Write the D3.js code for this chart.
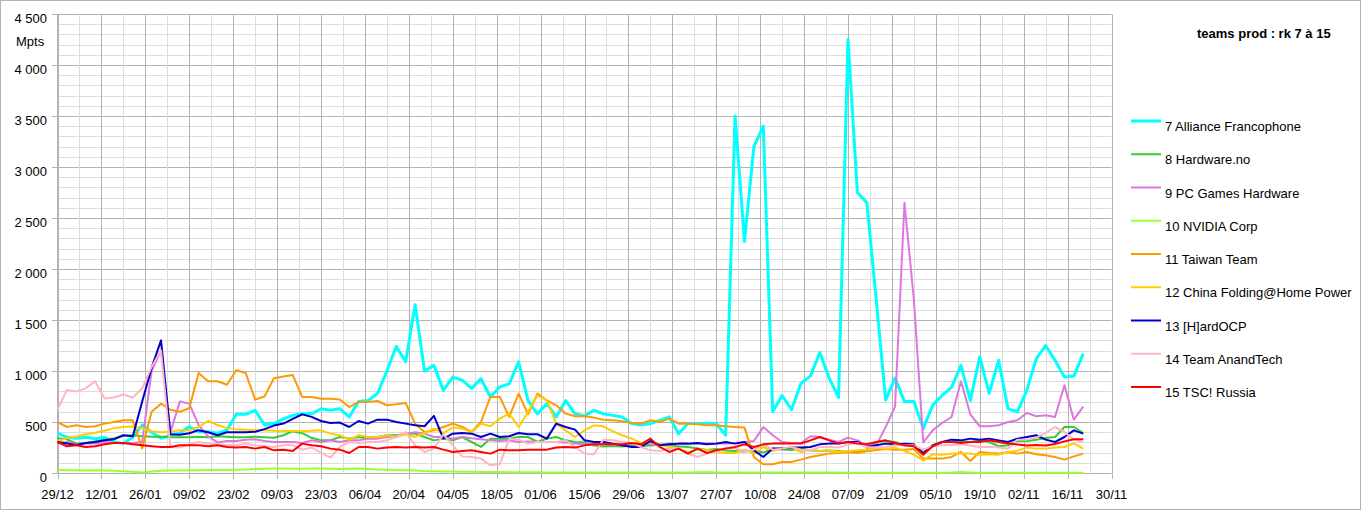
<!DOCTYPE html>
<html>
<head>
<meta charset="utf-8">
<script src="https://cdn.jsdelivr.net/npm/d3@7"></script>
<style>
  body { margin: 0; background: #fff; }
  text { font-family: "Liberation Sans", Arial, sans-serif; }
</style>
</head>
<body>
<div id="chart"></div>
<script>
// daily production (Mpts), one sample every 3 days from 29/12
var startDate = new Date(2008, 11, 29);
var stepDays = 3;

var xTickLabels = ["29/12", "12/01", "26/01", "09/02", "23/02", "09/03", "23/03", "06/04", "20/04",
  "04/05", "18/05", "01/06", "15/06", "29/06", "13/07", "27/07", "10/08", "24/08", "07/09",
  "21/09", "05/10", "19/10", "02/11", "16/11", "30/11"];
var yTicks = [0, 500, 1000, 1500, 2000, 2500, 3000, 3500, 4000, 4500];

var teamNames = ["7 Alliance Francophone", "8 Hardware.no", "9 PC Games Hardware", "10 NVIDIA Corp",
  "11 Taiwan Team", "12 China Folding@Home Power", "13 [H]ardOCP", "14 Team AnandTech", "15 TSC! Russia"];

var allianceFr = [390, 350, 340, 350, 335, 350, 305, 290, 350, 470, 400, 340, 370, 390, 455, 405, 405, 390, 420, 575, 575, 615, 470, 485, 530, 565, 580, 580,
  630, 615, 630, 550, 700, 710, 780, 1000, 1240, 1090, 1650, 1000, 1055, 810, 940, 910, 830, 925, 745, 845, 875, 1090, 710, 580, 680, 550, 710, 580,
  560, 615, 580, 565, 550, 485, 470, 485, 515, 550, 385, 485, 485, 485, 485, 370, 3500, 2270, 3200, 3400, 600, 760, 620, 880, 950, 1180, 930, 740,
  4250, 2750, 2650, 1700, 715, 930, 700, 700, 435, 665, 760, 840, 1055, 710, 1140, 780, 1105, 630, 600, 810, 1120, 1250, 1105, 940, 950, 1170];
var hardwareNo = [340, 330, 290, 295, 310, 325, 340, 365, 370, 360, 355, 355, 350, 350, 350, 355, 350, 360, 355, 350, 350, 355, 350, 345, 370, 410, 390, 345,
  320, 320, 353, 337, 353, 337, 353, 370, 370, 386, 386, 353, 320, 337, 320, 353, 304, 255, 337, 337, 337, 353, 353, 304, 337, 353, 320, 304,
  300, 270, 260, 265, 260, 270, 265, 270, 280, 275, 260, 255, 240, 225, 235, 220, 215, 210, 220, 200, 240, 230, 225, 240, 220, 215, 220, 215,
  206, 206, 230, 304, 314, 304, 271, 271, 206, 271, 304, 304, 314, 304, 320, 304, 262, 271, 314, 314, 327, 343, 353, 451, 451, 392];
var pcgh = [288, 304, 281, 288, 288, 304, 294, 294, 294, 304, 1000, 1200, 400, 700, 680, 470, 360, 300, 314, 314, 327, 330, 314, 304, 304, 304, 294, 320,
  304, 320, 304, 320, 320, 337, 337, 353, 360, 386, 400, 386, 353, 353, 337, 353, 340, 330, 320, 314, 320, 304, 310, 304, 304, 304, 300, 290,
  281, 281, 284, 275, 271, 288, 288, 281, 271, 288, 281, 281, 288, 288, 288, 288, 294, 304, 314, 451, 370, 304, 294, 294, 360, 353, 327, 304,
  347, 320, 271, 271, 450, 650, 2650, 1700, 300, 418, 490, 549, 900, 575, 458, 458, 468, 500, 517, 589, 556, 566, 549, 860, 523, 650];
var nvidia = [30, 28, 28, 25, 28, 25, 22, 18, 12, 5, 15, 22, 25, 25, 28, 28, 30, 30, 30, 32, 35, 38, 42, 45, 45, 42, 42, 45,
  45, 42, 40, 42, 45, 40, 35, 32, 30, 28, 25, 20, 18, 15, 14, 12, 12, 10, 10, 9, 8, 8, 7, 7, 6, 6, 6, 6,
  6, 6, 5, 5, 5, 5, 5, 5, 5, 5, 5, 5, 8, 10, 6, 5, 5, 5, 5, 5, 4, 4, 4, 4, 4, 4, 4, 4,
  3, 3, 3, 3, 3, 3, 3, 3, 3, 3, 3, 5, 10, 5, 3, 3, 3, 3, 3, 3, 3, 3, 3, 3, 3, 3];
var taiwan = [500, 451, 468, 451, 458, 484, 500, 517, 517, 240, 600, 680, 620, 600, 635, 980, 900, 900, 865, 1007, 980, 720, 750, 930, 945, 960, 746, 746,
  729, 729, 720, 647, 697, 697, 706, 664, 674, 687, 484, 402, 418, 451, 484, 451, 402, 500, 746, 746, 550, 778, 576, 778, 713, 664, 582, 556,
  556, 543, 523, 517, 507, 490, 484, 517, 500, 533, 484, 484, 477, 468, 468, 458, 451, 445, 157, 85, 85, 108, 108, 131, 157, 173, 190, 196,
  206, 196, 213, 226, 235, 229, 229, 235, 141, 141, 141, 157, 206, 118, 206, 196, 190, 203, 190, 206, 183, 173, 157, 131, 163, 190];
var china = [310, 340, 355, 380, 395, 415, 440, 450, 455, 440, 410, 400, 405, 420, 420, 450, 510, 470, 440, 430, 425, 420, 420, 415, 410, 415, 410, 415,
  418, 386, 370, 327, 370, 353, 353, 370, 353, 380, 353, 392, 435, 392, 445, 435, 402, 484, 458, 533, 582, 451, 598, 762, 713, 484, 418, 353,
  418, 468, 458, 409, 370, 337, 294, 304, 281, 255, 239, 206, 229, 229, 206, 196, 196, 229, 190, 255, 216, 239, 249, 206, 229, 216, 222, 206,
  216, 222, 229, 249, 235, 249, 216, 180, 124, 183, 180, 190, 190, 190, 180, 183, 180, 206, 219, 249, 239, 239, 249, 255, 290, 240];
var hardOcp = [305, 290, 275, 295, 305, 320, 330, 370, 360, 700, 1030, 1300, 380, 375, 390, 420, 400, 370, 400, 400, 400, 405, 430, 465, 485, 530, 575, 550,
  510, 490, 494, 451, 510, 484, 523, 523, 500, 484, 468, 458, 560, 337, 386, 392, 386, 353, 386, 353, 360, 392, 380, 380, 337, 484, 451, 425,
  320, 304, 304, 288, 271, 255, 255, 314, 271, 281, 288, 288, 294, 281, 288, 304, 288, 304, 222, 157, 239, 239, 249, 249, 255, 281, 288, 288,
  304, 304, 255, 271, 288, 281, 288, 281, 190, 271, 304, 327, 320, 337, 327, 337, 320, 304, 337, 353, 370, 327, 304, 353, 418, 386];
var anandTech = [620, 815, 800, 830, 900, 730, 740, 770, 740, 830, 1040, 1200, 255, 249, 281, 304, 288, 281, 271, 271, 288, 271, 262, 255, 271, 271, 229, 249,
  200, 150, 255, 304, 294, 304, 304, 320, 353, 402, 271, 206, 239, 380, 271, 163, 157, 141, 75, 85, 337, 327, 288, 304, 304, 304, 320, 255,
  190, 183, 327, 320, 304, 294, 255, 222, 216, 239, 239, 190, 157, 190, 206, 249, 239, 216, 229, 281, 229, 239, 255, 229, 222, 255, 255, 249,
  281, 294, 255, 249, 255, 271, 271, 271, 229, 262, 271, 271, 281, 268, 255, 255, 249, 239, 327, 327, 347, 392, 451, 402, 327, 304];
var tscRussia = [304, 262, 271, 255, 262, 281, 294, 294, 281, 271, 262, 255, 255, 271, 271, 271, 262, 271, 255, 249, 255, 239, 255, 222, 229, 216, 288, 271,
  262, 239, 229, 196, 255, 255, 239, 249, 255, 249, 255, 249, 255, 229, 206, 216, 222, 206, 190, 229, 222, 222, 229, 229, 229, 249, 255, 249,
  271, 281, 281, 281, 281, 294, 281, 337, 255, 206, 239, 190, 239, 196, 222, 239, 255, 281, 255, 281, 288, 288, 288, 288, 320, 353, 320, 288,
  304, 288, 281, 304, 320, 294, 271, 262, 180, 262, 304, 304, 294, 304, 304, 320, 304, 290, 280, 270, 275, 270, 285, 310, 330, 330];

var teamColors = ["#00ffff", "#33cc33", "#dd77dd", "#99ff33", "#ff9900", "#ffcc00", "#0000cc", "#ffb6c1", "#ff0000"];
var teamValues = [allianceFr, hardwareNo, pcgh, nvidia, taiwan, china, hardOcp, anandTech, tscRussia];

var W = 1361, H = 510;
var endDate = d3.timeDay.offset(startDate, 336);
var dates = d3.range(allianceFr.length).map(function(i) { return d3.timeDay.offset(startDate, i * stepDays); });

var x = d3.scaleTime().domain([startDate, endDate]).range([57.5, 1111.5]);
var y = d3.scaleLinear().domain([0, 4500]).range([473, 14]);
var fmt = d3.formatLocale({decimal: ",", thousands: " ", grouping: [3], currency: ["", ""]}).format(",");

var svg = d3.select("#chart").append("svg")
  .attr("width", W)
  .attr("height", H);

svg.append("rect")
  .attr("x", 0.5).attr("y", 0.5)
  .attr("width", W - 1).attr("height", H - 1)
  .attr("fill", "#fff")
  .attr("stroke", "#b3b3b3");

function px(v) { return Math.round(v) + 0.5; }

// grid: minor every 100 Mpts / 7 days, major every 500 / 14 days
var grid = svg.append("g");
grid.selectAll(".hminor").data(d3.range(0, 4501, 100)).enter().append("line")
  .attr("x1", 57.5).attr("x2", 1111.5)
  .attr("y1", function(d) { return px(y(d)); }).attr("y2", function(d) { return px(y(d)); })
  .attr("stroke", function(d) { return d % 500 ? "#dddddd" : "#b3b3b3"; });
grid.selectAll(".vminor").data(d3.range(0, 337, 7)).enter().append("line")
  .attr("x1", function(d) { return px(x(d3.timeDay.offset(startDate, d))); })
  .attr("x2", function(d) { return px(x(d3.timeDay.offset(startDate, d))); })
  .attr("y1", px(y(4500))).attr("y2", px(y(0)))
  .attr("stroke", function(d) { return d % 14 ? "#dddddd" : "#b3b3b3"; });

// y axis
var yAxis = svg.append("g");
yAxis.append("line")
  .attr("x1", 57.5).attr("x2", 57.5).attr("y1", px(y(4500))).attr("y2", px(y(0)))
  .attr("stroke", "#b3b3b3");
yAxis.selectAll(".tick").data(yTicks).enter().append("line")
  .attr("x1", 52).attr("x2", 57.5)
  .attr("y1", function(d) { return px(y(d)); }).attr("y2", function(d) { return px(y(d)); })
  .attr("stroke", "#b3b3b3");
yAxis.selectAll("text").data(yTicks).enter().append("text")
  .attr("x", 47)
  .attr("y", function(d) { return y(d) + 9; })
  .attr("text-anchor", "end")
  .attr("font-size", 13)
  .text(function(d) { return fmt(d); });
svg.append("text")
  .attr("x", 16).attr("y", 46)
  .attr("font-size", 13)
  .text("Mpts");

// x axis
var xAxis = svg.append("g");
xAxis.selectAll("line").data(xTickLabels).enter().append("line")
  .attr("x1", function(d, i) { return px(x(d3.timeDay.offset(startDate, i * 14))); })
  .attr("x2", function(d, i) { return px(x(d3.timeDay.offset(startDate, i * 14))); })
  .attr("y1", px(y(0))).attr("y2", 479)
  .attr("stroke", "#b3b3b3");
xAxis.selectAll("text").data(xTickLabels).enter().append("text")
  .attr("x", function(d, i) { return x(d3.timeDay.offset(startDate, i * 14)); })
  .attr("y", 499)
  .attr("text-anchor", "middle")
  .attr("font-size", 13)
  .text(function(d) { return d; });

// series lines
var line = d3.line()
  .x(function(d, i) { return x(dates[i]); })
  .y(function(d) { return y(d); });

svg.append("g").selectAll("path").data(teamValues).enter().append("path")
  .attr("d", line)
  .attr("fill", "none")
  .attr("stroke", function(d, i) { return teamColors[i]; })
  .attr("stroke-width", function(d, i) { return i === 0 ? 3 : 2; })
  .attr("stroke-linejoin", "round");

// title + legend
svg.append("text")
  .attr("x", 1197).attr("y", 38)
  .attr("font-size", 13)
  .attr("font-weight", "bold")
  .text("teams prod : rk 7 à 15");

var legend = svg.append("g").selectAll("g").data(teamNames).enter().append("g")
  .attr("transform", function(d, i) { return "translate(0," + (121 + i * 33.25) + ")"; });
legend.append("line")
  .attr("x1", 1131).attr("x2", 1161)
  .attr("stroke", function(d, i) { return teamColors[i]; })
  .attr("stroke-width", function(d, i) { return i === 0 ? 3 : 2; });
legend.append("text")
  .attr("x", 1165).attr("y", 10)
  .attr("font-size", 13)
  .text(function(d) { return d; });
</script>
</body>
</html>
